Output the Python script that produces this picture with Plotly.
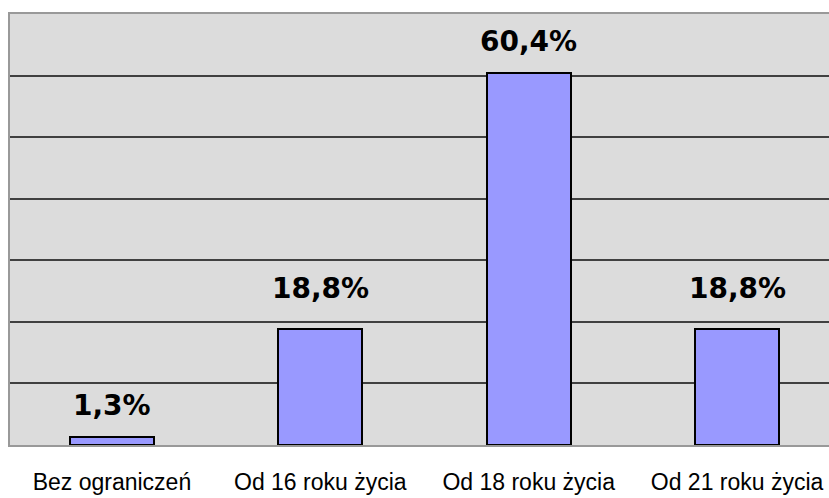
import plotly.graph_objects as go

categories = ["Bez ograniczeń", "Od 16 roku życia", "Od 18 roku życia", "Od 21 roku życia"]
values = [1.3, 18.8, 60.4, 18.8]
value_labels = ["1,3%", "18,8%", "60,4%", "18,8%"]
label_shift = [19, 28, 19, 28]

fig = go.Figure()
fig.add_trace(go.Bar(
    x=list(range(len(categories))),
    y=values,
    width=0.403,
    marker=dict(color="#9999FF", line=dict(color="#000000", width=2)),
    hoverinfo="skip",
))

for i, (v, t) in enumerate(zip(values, value_labels)):
    fig.add_annotation(
        x=i, y=v, text=t, showarrow=False,
        xanchor="center", yanchor="bottom", yshift=label_shift[i] - 6,
        font=dict(family="DejaVu Sans", size=28, color="#000000", weight="bold"),
    )

fig.update_layout(
    width=829, height=498,
    margin=dict(l=10, r=0, t=14, b=53),
    paper_bgcolor="#FFFFFF",
    plot_bgcolor="#DCDCDC",
    showlegend=False,
    bargap=0,
)
fig.update_xaxes(
    range=[-0.489, 3.441],
    tickmode="array",
    tickvals=list(range(len(categories))),
    ticktext=categories,
    tickfont=dict(family="Liberation Sans", size=23, color="#000000"),
    showgrid=False,
    showline=True, mirror=True, linecolor="#999999", linewidth=2,
    ticks="",
    ticklabelstandoff=15,
    automargin=False,
    fixedrange=True,
)
fig.update_yaxes(
    range=[0, 70],
    dtick=10,
    showgrid=True, gridcolor="#404040", gridwidth=1.5,
    zeroline=False,
    showticklabels=False,
    showline=True, linecolor="#999999", linewidth=2,
    ticks="",
    automargin=False,
    fixedrange=True,
)

fig.write_html(
    "out.html",
    config={"displayModeBar": False},
    post_script="document.body.style.margin='0';document.body.style.overflow='hidden';",
)
